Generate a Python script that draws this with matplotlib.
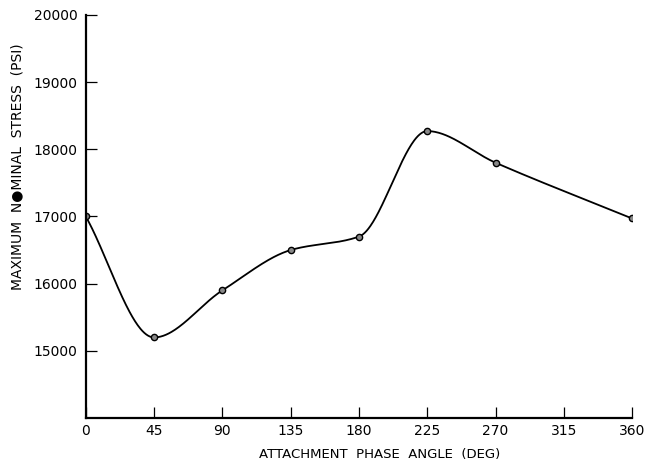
import numpy as np
import matplotlib
matplotlib.use("Agg")
import matplotlib.pyplot as plt


# -------------------------------------------------
# DATA
# -------------------------------------------------
phase_deg = [0, 45, 90, 135, 180, 225, 270, 360]
stress_psi = [17000, 15200, 15900, 16500, 16700, 18270, 17800, 16970]

x_ticks = [0, 45, 90, 135, 180, 225, 270, 315, 360]
y_ticks = [15000, 16000, 17000, 18000, 19000, 20000]


# -------------------------------------------------
# SMOOTH CURVE (monotone cubic through the points)
# -------------------------------------------------
def pchip(x, y, xs):
    x = np.asarray(x, float)
    y = np.asarray(y, float)
    h = np.diff(x)
    d = np.diff(y) / h
    n = len(x)
    m = np.zeros(n)
    for k in range(1, n - 1):
        if d[k - 1] * d[k] > 0:
            w1 = 2 * h[k] + h[k - 1]
            w2 = h[k] + 2 * h[k - 1]
            m[k] = (w1 + w2) / (w1 / d[k - 1] + w2 / d[k])
    m[0] = d[0]
    m[-1] = d[-1]
    idx = np.clip(np.searchsorted(x, xs) - 1, 0, n - 2)
    t = (xs - x[idx]) / h[idx]
    h00 = 2 * t**3 - 3 * t**2 + 1
    h10 = t**3 - 2 * t**2 + t
    h01 = -2 * t**3 + 3 * t**2
    h11 = t**3 - t**2
    return (h00 * y[idx] + h10 * h[idx] * m[idx]
            + h01 * y[idx + 1] + h11 * h[idx] * m[idx + 1])


xs = np.linspace(phase_deg[0], phase_deg[-1], 600)
ys = pchip(phase_deg, stress_psi, xs)


# -------------------------------------------------
# PLOT
# -------------------------------------------------
fig = plt.figure(figsize=(6.45, 4.63), dpi=100)
ax = fig.add_axes([0.133, 0.097, 0.847, 0.871])

ax.plot(xs, ys, color="black", lw=1.3)
ax.plot(phase_deg, stress_psi, "o", ms=4.5, mfc="#888888",
        mec="black", mew=1.0)

ax.set_xlim(0, 360)
ax.set_ylim(14000, 20000)
ax.set_xticks(x_ticks)
ax.set_yticks(y_ticks)
ax.set_xticklabels([str(v) for v in x_ticks])
ax.set_yticklabels([str(v) for v in y_ticks])

for side in ("top", "right"):
    ax.spines[side].set_visible(False)
for side in ("left", "bottom"):
    ax.spines[side].set_linewidth(1.6)

ax.tick_params(axis="both", direction="in", length=8, width=0.9,
               labelsize=10, colors="black")
ax.tick_params(axis="x", pad=4)
ax.tick_params(axis="y", pad=6)

ax.set_xlabel("ATTACHMENT  PHASE  ANGLE  (DEG)", fontsize=9.5)
ax.set_ylabel("MAXIMUM  N\u25cfMINAL  STRESS  (PSI)", fontsize=10)
ax.xaxis.set_label_coords(0.538, -0.074)
ax.yaxis.set_label_coords(-0.112, 0.623)

fig.savefig("out.png", dpi=100)
